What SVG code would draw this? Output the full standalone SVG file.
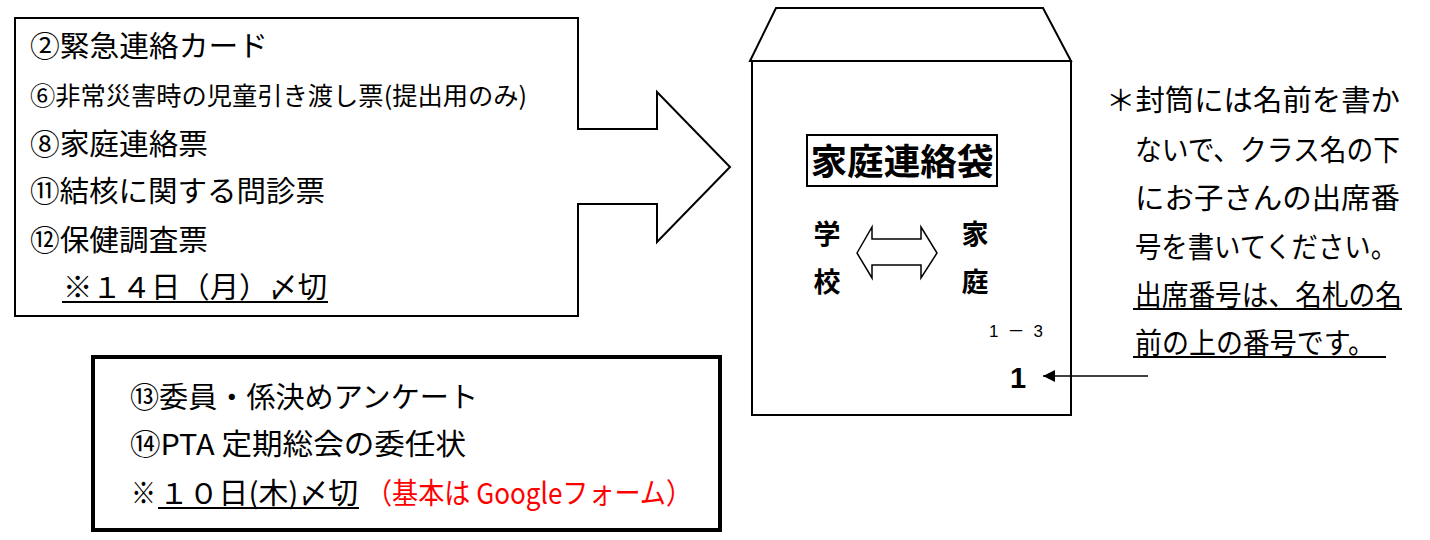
<svg xmlns="http://www.w3.org/2000/svg" width="1430" height="540" viewBox="0 0 1430 540">
<defs>
<style>
.jp{font-family:"Noto Sans CJK JP","Noto Sans",sans-serif;fill:#000}
.t29{font-size:29px}
.t25{font-size:25px}
.b{font-weight:bold}
.ln{fill:none;stroke:#000}
.red{fill:#ff0000}
</style>
<marker id="ah" viewBox="0 0 10 10" refX="10" refY="5" markerWidth="15" markerHeight="12" markerUnits="userSpaceOnUse" orient="auto">
<path d="M0,0 L10,5 L0,10 Z" fill="#000"/>
</marker>
</defs>
<rect width="1430" height="540" fill="#fff"/>

<g id="list-box">
<path class="ln" stroke-width="2" d="M15,18 H578 V129 H657 V92 L730,167 L657,242 V204 H578 V316 H15 Z" fill="#fff"/>
<text class="jp t29" x="30" y="57" textLength="238" lengthAdjust="spacingAndGlyphs">②緊急連絡カード</text>
<text class="jp t25" x="30" y="105" textLength="497" lengthAdjust="spacingAndGlyphs">⑥非常災害時の児童引き渡し票(提出用のみ)</text>
<text class="jp t29" x="30" y="155" textLength="178" lengthAdjust="spacingAndGlyphs">⑧家庭連絡票</text>
<text class="jp t29" x="30" y="202" textLength="295" lengthAdjust="spacingAndGlyphs">⑪結核に関する問診票</text>
<text class="jp t29" x="30" y="251" textLength="178" lengthAdjust="spacingAndGlyphs">⑫保健調査票</text>
<text class="jp t29" x="63" y="298" textLength="264" lengthAdjust="spacingAndGlyphs">※１４日（月）〆切</text>
<line class="ln" stroke-width="2" x1="62" y1="302" x2="328" y2="302"/>
</g>

<g id="envelope">
<polygon class="ln" stroke-width="2" points="750,61 776,8 1043,8 1071,61"/>
<rect class="ln" stroke-width="2" x="752" y="61" width="319" height="354"/>
<rect class="ln" stroke-width="2" x="807" y="135" width="190" height="51"/>
<text class="jp b" font-size="36" x="902" y="175" text-anchor="middle" textLength="183" lengthAdjust="spacingAndGlyphs">家庭連絡袋</text>
<text class="jp b" font-size="27" x="827" y="244" text-anchor="middle">学</text>
<text class="jp b" font-size="27" x="827" y="292" text-anchor="middle">校</text>
<text class="jp b" font-size="27" x="975" y="244" text-anchor="middle">家</text>
<text class="jp b" font-size="27" x="975" y="292" text-anchor="middle">庭</text>
<polygon class="ln" stroke-width="1.5" points="857,253 872,227 872,239 921,239 921,227 937,253 921,278 921,265 872,265 872,278"/>
<text font-family="Liberation Sans, Arial, sans-serif" font-size="17" x="989" y="337" textLength="54" lengthAdjust="spacing">1 <tspan font-family="Noto Sans CJK JP, sans-serif">－</tspan> 3</text>
<text font-family="Liberation Sans, Arial, sans-serif" font-weight="bold" font-size="29" x="1010" y="388">1</text>
</g>

<g id="note">
<text class="jp t29" x="1106" y="111" textLength="294" lengthAdjust="spacingAndGlyphs">＊封筒には名前を書か</text>
<text class="jp t29" x="1135" y="161" textLength="265" lengthAdjust="spacingAndGlyphs">ないで、クラス名の下</text>
<text class="jp t29" x="1135" y="209" textLength="265" lengthAdjust="spacingAndGlyphs">にお子さんの出席番</text>
<text class="jp t29" x="1135" y="258" textLength="262" lengthAdjust="spacingAndGlyphs">号を書いてください。</text>
<text class="jp t29" x="1135" y="306" textLength="267" lengthAdjust="spacingAndGlyphs">出席番号は、名札の名</text>
<line class="ln" stroke-width="2" x1="1133" y1="309" x2="1402" y2="309"/>
<text class="jp t29" x="1135" y="354" textLength="240" lengthAdjust="spacingAndGlyphs">前の上の番号です。</text>
<line class="ln" stroke-width="2" x1="1133" y1="357" x2="1386" y2="357"/>
</g>

<g id="bottom-box">
<rect class="ln" stroke-width="4" x="93" y="357" width="627" height="173"/>
<text class="jp t29" x="130" y="408" textLength="348" lengthAdjust="spacingAndGlyphs">⑬委員・係決めアンケート</text>
<text class="jp t29" x="130" y="455" textLength="336" lengthAdjust="spacingAndGlyphs">⑭PTA 定期総会の委任状</text>
<text class="jp t29" x="131" y="504" textLength="25" lengthAdjust="spacingAndGlyphs">※</text>
<text class="jp t29" x="159" y="504" textLength="199" lengthAdjust="spacingAndGlyphs">１０日(木)〆切</text>
<line class="ln" stroke-width="2" x1="158" y1="508" x2="359" y2="508"/>
<text class="jp t29 red" x="366" y="504" textLength="326" lengthAdjust="spacingAndGlyphs">（基本は Googleフォーム）</text>
</g>

<g id="connectors">
<line class="ln" stroke-width="1.5" x1="1148" y1="376" x2="1043" y2="376" marker-end="url(#ah)"/>
</g>
</svg>
